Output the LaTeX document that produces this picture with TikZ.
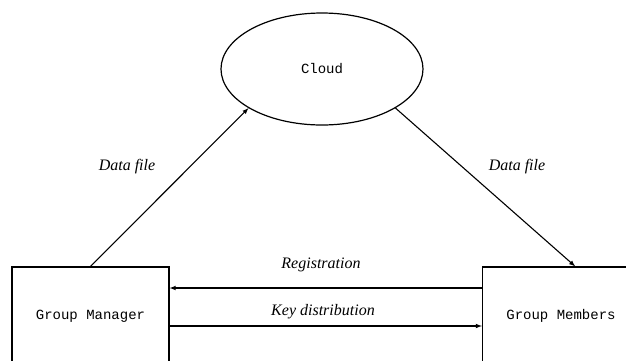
\documentclass[tikz,border=0pt]{standalone}
\usepackage{fontspec}
\setmainfont{Liberation Serif}
\setmonofont{Liberation Mono}
\usetikzlibrary{arrows,shapes}

\begin{document}
\begin{tikzpicture}[>=latex,x=1pt,y=-1pt,line width=1.1pt,
party/.style={rectangle, draw, line width=1.2pt, minimum width=157pt, minimum height=98pt, inner sep=0pt, font=\fontsize{14}{16}\selectfont\ttfamily},
store/.style={ellipse, draw, line width=1.2pt, minimum width=202pt, minimum height=112pt, inner sep=0pt, font=\fontsize{14}{16}\selectfont\ttfamily},
msg/.style={font=\fontsize{16}{18}\selectfont\itshape, inner sep=0pt}]

\useasboundingbox (0,0) rectangle (626,360);

\draw (322,69) node[store] (Cloud) {Cloud};
\draw (90.5,316) node[party] (GM) {Group Manager};
\draw (561,316) node[party] (GMem) {Group Members};

\draw (127,167) node[msg] (DF1) {Data file};
\draw (517,167) node[msg] (DF2) {Data file};
\draw (321,265) node[msg] (Reg) {Registration};
\draw (323,312) node[msg] (Key) {Key distribution};

% connectors
\draw[->] (GM.north)--(Cloud.208);
\draw[->] (Cloud.332)--(GMem.74);
\draw[->] ([yshift=28pt]GMem.west)--([yshift=28pt]GM.east);
\draw[->] ([yshift=-10pt]GM.east)--([yshift=-10pt]GMem.west);

\end{tikzpicture}
\end{document}
